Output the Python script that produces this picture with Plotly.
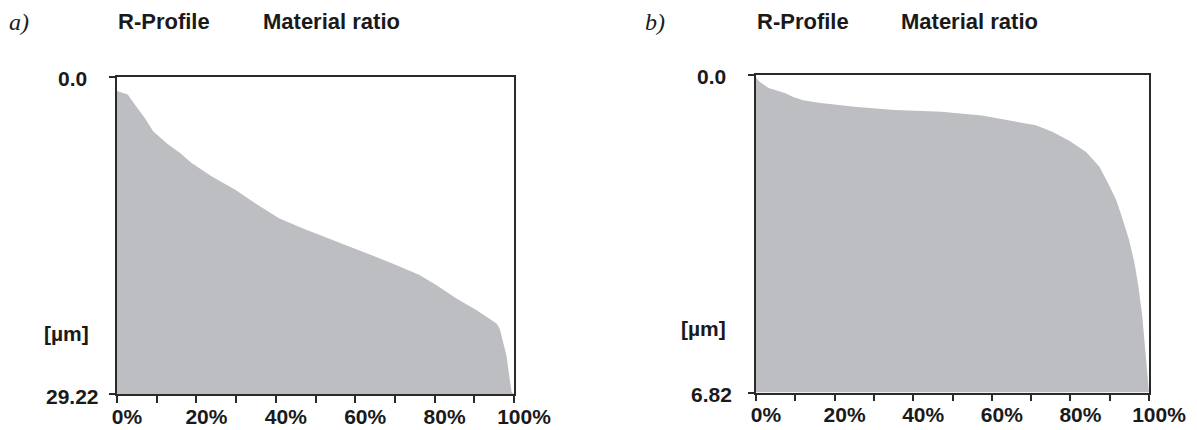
import plotly.graph_objects as go

# ---------------- data ----------------
# Panel a: material ratio (%) vs depth (µm)
ratio_a = [0, 2.7, 4.8, 7, 9.1, 12.9, 15.9, 18.8, 23.9, 29.8, 34.8, 40.8, 46.7, 53.4,
           61.9, 70.3, 76.2, 80.5, 85.5, 90.6, 95.6, 96.4, 97.3, 98.1, 98.8, 99.4, 100]
depth_a = [1.29, 1.61, 2.69, 3.77, 5.00, 6.22, 7.01, 7.92, 9.17, 10.40, 11.63, 13.03, 13.94, 14.87,
           16.10, 17.33, 18.26, 19.20, 20.42, 21.51, 22.73, 23.20, 24.43, 25.66, 27.53, 29.07, 29.22]
depth_max_a = 29.22

# Panel b
ratio_b = [0, 1.0, 3.2, 5.5, 7.5, 9.5, 12, 16.5, 25, 35.3, 47.2, 57.5, 64.3, 71.2, 75.4, 79.7,
           84, 87.4, 90, 91.7, 92.9, 94.9, 96.3, 97.3, 98.3, 99, 99.7, 100]
depth_b = [0.07, 0.16, 0.29, 0.34, 0.40, 0.48, 0.55, 0.61, 0.69, 0.76, 0.80, 0.88, 0.99, 1.09, 1.23, 1.42,
           1.66, 1.98, 2.40, 2.70, 3.00, 3.54, 4.04, 4.54, 5.19, 5.91, 6.48, 6.82]
depth_max_b = 6.82

x_tick_vals = [0, 10, 20, 30, 40, 50, 60, 70, 80, 90, 100]
x_tick_text = ["0%", "", "20%", "", "40%", "", "60%", "", "80%", "", "100%"]
y_tick_text_a = ["0.0", "29.22"]
y_tick_text_b = ["0.0", "6.82"]
panel_labels = ["a)", "b)"]
title_left = "R-Profile"
title_right = "Material ratio"
unit_label = "[µm]"

# ---------------- styling ----------------
W, H = 1197, 430
FILL = "#bdbec2"
AXC = "#2a2a2a"
TXT = "#1a1a1a"
FONT = "Liberation Sans"
FS = 21

def px_x(p):
    return p / W

def px_y(p):
    return 1 - p / H

fig = go.Figure()

def add_area(xs, ys, ymax, xa, ya):
    fig.add_trace(go.Scatter(
        x=list(xs) + [xs[-1], xs[0]],
        y=list(ys) + [ymax, ymax],
        mode="lines", fill="toself", fillcolor=FILL,
        line=dict(width=0, color=FILL), xaxis=xa, yaxis=ya,
        hoverinfo="skip", showlegend=False))

add_area(ratio_a, depth_a, depth_max_a, "x", "y")
add_area(ratio_b, depth_b, depth_max_b, "x2", "y2")

xaxis_common = dict(range=[0, 100], tickmode="array", tickvals=x_tick_vals, ticktext=x_tick_text,
                    ticks="outside", ticklen=7, tickwidth=1.5, tickcolor=AXC,
                    showline=True, linecolor=AXC, linewidth=1.5, mirror=True,
                    showgrid=False, zeroline=False, automargin=False,
                    ticklabelshift=10, ticklabelstandoff=-4,
                    tickfont=dict(family=FONT, size=FS, color=TXT, weight="bold"))

def yaxis_common(ymax, domain):
    return dict(range=[ymax, 0], tickmode="array", tickvals=[0, ymax],
                ticks="outside", ticklen=6, tickwidth=1.5, tickcolor=AXC,
                showticklabels=False, automargin=False,
                showline=True, linecolor=AXC, linewidth=1.5, mirror=True,
                showgrid=False, zeroline=False, domain=domain)

fig.update_layout(
    template="none", autosize=False,
    width=W, height=H, margin=dict(l=0, r=0, t=0, b=0, pad=0),
    paper_bgcolor="white", plot_bgcolor="white",
    xaxis=dict(domain=[px_x(117), px_x(514)], anchor="y", **xaxis_common),
    yaxis=dict(anchor="x", **yaxis_common(depth_max_a, [px_y(394), px_y(77)])),
    xaxis2=dict(domain=[px_x(756), px_x(1149)], anchor="y2", **xaxis_common),
    yaxis2=dict(anchor="x2", **yaxis_common(depth_max_b, [px_y(392.5), px_y(74.5)])),
)

ann = []
bold = dict(family=FONT, size=FS, color=TXT, weight="bold")
bold_title = dict(family=FONT, size=22, color=TXT, weight="bold")

# y tick labels (centered)
for xr, yr, ymax, labels in [("x domain", "y", depth_max_a, y_tick_text_a),
                             ("x2 domain", "y2", depth_max_b, y_tick_text_b)]:
    for val, lab in zip([0, ymax], labels):
        ann.append(dict(text=lab, xref=xr, yref=yr, x=0, y=val, xshift=-45, yshift=-2,
                        xanchor="center", yanchor="middle", showarrow=False, font=bold))

# unit labels
ann.append(dict(text=unit_label, xref="paper", yref="paper", x=px_x(66), y=px_y(333),
                xanchor="center", yanchor="middle", showarrow=False, font=bold))
ann.append(dict(text=unit_label, xref="paper", yref="paper", x=px_x(703), y=px_y(328),
                xanchor="center", yanchor="middle", showarrow=False, font=bold))

# titles
for lab, x0, xl, xm in [(panel_labels[0], 7, 116, 261), (panel_labels[1], 643, 755, 899)]:
    ann.append(dict(text=lab, xref="paper", yref="paper", x=px_x(x0), y=px_y(22),
                    xanchor="left", yanchor="middle", showarrow=False,
                    font=dict(family="Liberation Serif", size=24, color=TXT, style="italic")))
    ann.append(dict(text=title_left, xref="paper", yref="paper", x=px_x(xl), y=px_y(21),
                    xanchor="left", yanchor="middle", showarrow=False, font=bold_title))
    ann.append(dict(text=title_right, xref="paper", yref="paper", x=px_x(xm), y=px_y(21),
                    xanchor="left", yanchor="middle", showarrow=False, font=bold_title))

fig.update_layout(annotations=ann)
fig.write_html(
    "out.html",
    config={"displayModeBar": False, "responsive": False},
    post_script="document.body.style.margin='0';document.body.style.padding='0';"
                "document.documentElement.style.overflow='hidden';",
)
